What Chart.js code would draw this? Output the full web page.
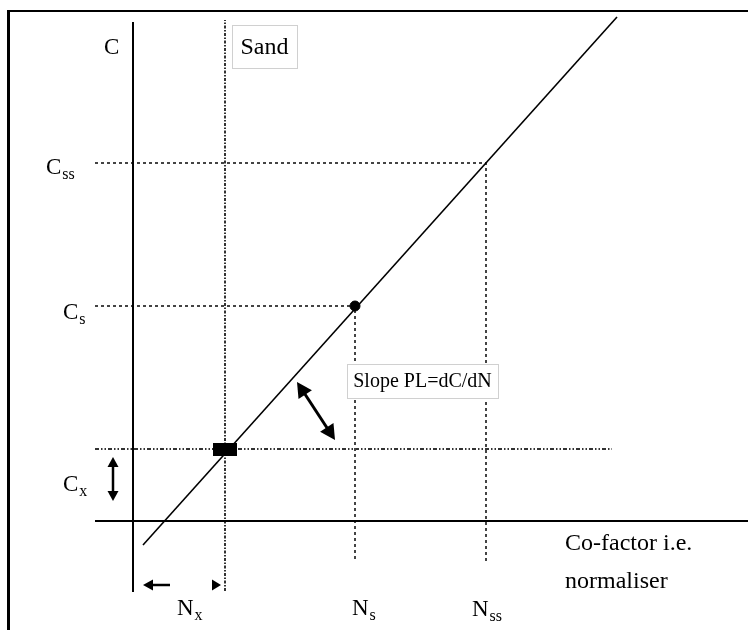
<!DOCTYPE html>
<html lang="en">
<head>
<meta charset="UTF-8">
<title>Normalisation diagram</title>
<script src="https://cdn.jsdelivr.net/npm/chart.js"></script>
<style>
  html, body { margin: 0; padding: 0; background: #fff; }
  #wrap { position: relative; width: 748px; height: 630px; overflow: hidden; }
  /* outer frame of the figure */
  #frame { position: absolute; left: 7px; top: 10px; width: 800px; height: 700px;
           border-top: 2.5px solid #000; border-left: 3px solid #000; }
  #chart { position: absolute; left: 0; top: 0; }
</style>
</head>
<body>
<div id="wrap">
  <div id="frame"></div>
  <canvas id="chart" width="748" height="630"></canvas>
</div>
<script>
  // guide levels (subscript, co-factor N, concentration C)
  const levelKeys = ['x', 's', 'ss'];
  const levelN = [9.2, 22.2, 35.3];
  const levelC = [7.2, 21.5, 35.8];

  // end points of the C vs N line
  const lineN = [1.0, 48.4];
  const lineC = [-2.4, 50.4];

  // axis extents
  const nAxisRange = [-3.8, 61.5];
  const cAxisRange = [-7.1, 49.9];
  const guideLeft = -3.8;
  const guideBottom = -4.1;
  const xGuideRight = 47.9;
  const xGuideRange = [-7.0, 50.1];

  // visible window
  const viewN = [-13.3, 61.5];
  const viewC = [-10.9, 52.1];

  // arrows: [fromN, fromC, toN, toC, double headed]
  const arrows = [
    [-2.0, 6.4, -2.0, 2.0, true],
    [3.7, -6.4, 1.0, -6.4, false],
    [8.0, -6.4, 8.8, -6.4, false],
    [16.4, 13.9, 20.2, 8.1, true]
  ];

  // text labels
  const labelText = ['C', 'C', 'C', 'C', 'N', 'N', 'N', 'Co-factor i.e.', 'normaliser'];
  const labelSub = ['', 'ss', 's', 'x', 'x', 's', 'ss', '', ''];
  const labelN = [-2.9, -8.7, -7.0, -7.0, 4.4, 21.9, 33.9, 43.2, 43.2];
  const labelC = [46.7, 34.7, 20.2, 3.0, -9.4, -9.4, -9.5, -2.9, -6.7];

  // boxed notes: text, left, top, right, bottom
  const boxText = ['Sand', 'Slope PL=dC/dN'];
  const boxRect = [[9.9, 49.6, 16.4, 45.3], [21.4, 15.7, 36.5, 12.3]];

  const SERIF = "'Liberation Serif', 'Times New Roman', serif";
  const DOT = [3, 3];

  function pts(ns, cs) {
    return ns.map((n, i) => ({ x: n, y: cs[i] }));
  }

  // wide black marker at C_x
  const bar = document.createElement('canvas');
  bar.width = 24; bar.height = 13;
  const bctx = bar.getContext('2d');
  bctx.fillStyle = '#000';
  bctx.fillRect(0, 0, 24, 13);

  function lineSet(data, opts) {
    return Object.assign({
      data: data, showLine: true, pointRadius: 0, borderColor: '#000',
      borderWidth: 1.5, fill: false, tension: 0, order: 2
    }, opts);
  }

  const datasets = [
    lineSet(pts([0, 0], cAxisRange), { borderWidth: 2 }),
    lineSet(pts(nAxisRange, [0, 0]), { borderWidth: 2 }),
    lineSet(pts([guideLeft, levelN[2], levelN[2]], [levelC[2], levelC[2], guideBottom]),
      { borderColor: '#444', borderWidth: 2, borderDash: DOT }),
    lineSet(pts([guideLeft, levelN[1], levelN[1]], [levelC[1], levelC[1], guideBottom]),
      { borderColor: '#444', borderWidth: 2, borderDash: DOT }),
    lineSet(pts([guideLeft, xGuideRight], [levelC[0], levelC[0]]),
      { borderColor: '#333', borderWidth: 2, borderDash: [4, 2, 1.5, 2, 1.5, 2] }),
    lineSet(pts([levelN[0], levelN[0]], xGuideRange),
      { borderColor: '#333', borderWidth: 2, borderDash: [3, 1.5, 1.5, 1.5] }),
    lineSet(pts(lineN, lineC), { borderWidth: 1.6, order: 1 }),
    { data: [{ x: levelN[1], y: levelC[1] }], pointRadius: 5, backgroundColor: '#000',
      borderColor: '#000', showLine: false, order: 0 },
    { data: [{ x: levelN[0], y: levelC[0] }], pointStyle: bar, pointRadius: 7,
      showLine: false, order: 0 }
  ];

  function drawArrowHead(ctx, x1, y1, x2, y2, len, half) {
    const a = Math.atan2(y2 - y1, x2 - x1);
    ctx.beginPath();
    ctx.moveTo(x2, y2);
    ctx.lineTo(x2 - len * Math.cos(a) + half * Math.sin(a), y2 - len * Math.sin(a) - half * Math.cos(a));
    ctx.lineTo(x2 - len * Math.cos(a) - half * Math.sin(a), y2 - len * Math.sin(a) + half * Math.cos(a));
    ctx.closePath();
    ctx.fill();
  }

  const notes = {
    id: 'notes',
    afterDatasetsDraw(chart) {
      const ctx = chart.ctx;
      const sx = chart.scales.x, sy = chart.scales.y;
      const px = v => sx.getPixelForValue(v);
      const py = v => sy.getPixelForValue(v);
      ctx.save();
      ctx.fillStyle = '#000';
      ctx.strokeStyle = '#000';

      // arrows
      arrows.forEach(a => {
        const x1 = px(a[0]), y1 = py(a[1]), x2 = px(a[2]), y2 = py(a[3]);
        const d = Math.hypot(x2 - x1, y2 - y1);
        const big = d > 50;
        const len = big ? 15 : 10, half = big ? 8 : 5.5;
        ctx.lineWidth = big ? 3 : 2.5;
        if (d > len) {
          const ux = (x2 - x1) / d, uy = (y2 - y1) / d;
          ctx.beginPath();
          ctx.moveTo(a[4] ? x1 + ux * len * 0.6 : x1, a[4] ? y1 + uy * len * 0.6 : y1);
          ctx.lineTo(x2 - ux * len * 0.6, y2 - uy * len * 0.6);
          ctx.stroke();
          drawArrowHead(ctx, x1, y1, x2, y2, len, half);
          if (a[4]) drawArrowHead(ctx, x2, y2, x1, y1, len, half);
        } else {
          drawArrowHead(ctx, x1, y1, x2, y2, 9, 5.5);
        }
      });

      // labels with subscripts
      ctx.textBaseline = 'alphabetic';
      labelText.forEach((t, i) => {
        const x = px(labelN[i]), y = py(labelC[i]);
        ctx.font = (t.length > 1 ? '24px ' : '23px ') + SERIF;
        ctx.fillText(t, x, y);
        if (labelSub[i]) {
          const w = ctx.measureText(t).width;
          ctx.font = '16px ' + SERIF;
          ctx.fillText(labelSub[i], x + w + 1, y + 5);
        }
      });

      // boxed notes
      boxText.forEach((t, i) => {
        const r = boxRect[i];
        const l = px(r[0]), tp = py(r[1]), w = px(r[2]) - l, h = py(r[3]) - tp;
        ctx.fillStyle = '#fff';
        ctx.fillRect(l, tp, w, h);
        ctx.strokeStyle = '#d0d0d0';
        ctx.lineWidth = 1;
        ctx.strokeRect(l + 0.5, tp + 0.5, w, h);
        ctx.fillStyle = '#000';
        ctx.font = (i === 0 ? '24px ' : '20px ') + SERIF;
        ctx.textAlign = 'center';
        ctx.textBaseline = 'middle';
        ctx.fillText(t, l + w / 2, tp + h / 2 + 1);
        ctx.textAlign = 'left';
        ctx.textBaseline = 'alphabetic';
      });
      ctx.restore();
    }
  };

  new Chart(document.getElementById('chart'), {
    type: 'scatter',
    data: { datasets: datasets },
    options: {
      responsive: false,
      animation: false,
      devicePixelRatio: 1,
      layout: { padding: 0, autoPadding: false },
      plugins: { legend: { display: false }, tooltip: { enabled: false } },
      scales: {
        x: { type: 'linear', display: false, min: viewN[0], max: viewN[1] },
        y: { type: 'linear', display: false, min: viewC[0], max: viewC[1] }
      }
    },
    plugins: [notes]
  });
</script>
</body>
</html>
